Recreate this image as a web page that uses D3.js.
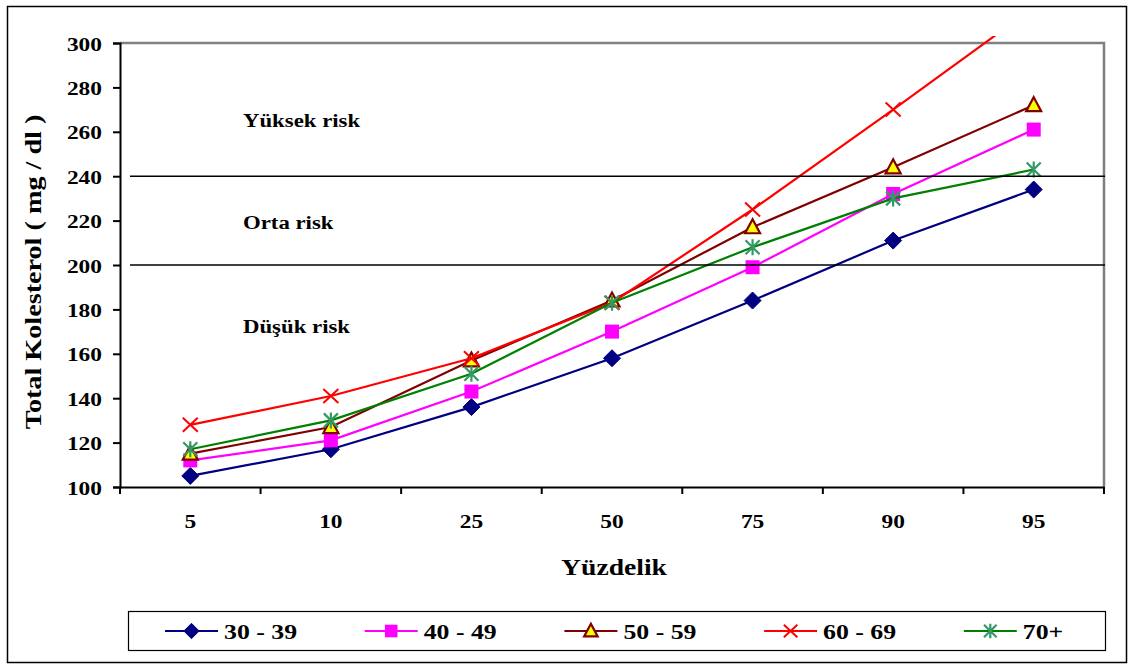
<!DOCTYPE html>
<html>
<head>
<meta charset="utf-8">
<script src="https://cdn.jsdelivr.net/npm/d3@7"></script>
<style>
  html, body { margin: 0; padding: 0; background: #fff; }
  svg { display: block; font-family: "Liberation Serif", "Times New Roman", serif; font-weight: bold; }
</style>
</head>
<body>
<div id="chart"></div>
<script>
// --- Data ---
const categories = ["5", "10", "25", "50", "75", "90", "95"];
const seriesNames = ["30 - 39", "40 - 49", "50 - 59", "60 - 69", "70+"];
const values3039 = [105, 117, 136, 158, 184, 211, 234];
const values4049 = [112, 121, 143, 170, 199, 232, 261];
const values5059 = [115, 127, 157, 184, 217, 244, 272];
const values6069 = [128, 141, 158, 183, 225, 270, 316];
const values70 = [117, 130, 151, 183, 208, 230, 243];
const yTicks = [100, 120, 140, 160, 180, 200, 220, 240, 260, 280, 300];
const riskLevels = [240, 200];
const riskLabels = [
  { text: "Yüksek risk", value: 262 },
  { text: "Orta risk", value: 216 },
  { text: "Düşük risk", value: 169.5 }
];

// --- Configuration ---
const width = 1129, height = 664;
const plot = { left: 120, right: 1104, top: 43, bottom: 487 };
const SX = 1.2; // the original text is drawn a little wider than the font

const series = [
  { name: seriesNames[0], values: values3039, color: "#000080", marker: "diamond" },
  { name: seriesNames[1], values: values4049, color: "#ff00ff", marker: "square" },
  { name: seriesNames[2], values: values5059, color: "#800000", marker: "triangle" },
  { name: seriesNames[3], values: values6069, color: "#ff0000", marker: "cross" },
  { name: seriesNames[4], values: values70, color: "#008000", marker: "star" }
];

const xScale = d3.scaleBand()
  .domain(categories)
  .range([plot.left, plot.right]);
const xPos = c => xScale(c) + xScale.bandwidth() / 2;

const yScale = d3.scaleLinear()
  .domain([100, 300])
  .range([plot.bottom, plot.top]);

const svg = d3.select("#chart")
  .append("svg")
  .attr("width", width)
  .attr("height", height);

// text helper: positioned at (x, y), stretched horizontally
function addText(parent, x, y, str, size, anchor, rotate) {
  return parent.append("text")
    .attr("transform", `translate(${x},${y})` + (rotate ? ` rotate(${rotate})` : "") + ` scale(${SX},1)`)
    .attr("text-anchor", anchor || "start")
    .attr("font-size", size + "px")
    .attr("fill", "#000")
    .text(str);
}

// outer frame
svg.append("rect")
  .attr("x", 7.5).attr("y", 6.5)
  .attr("width", 1119).attr("height", 656)
  .attr("fill", "none").attr("stroke", "#000").attr("stroke-width", 1.5);

// plot area frame (gray top & right)
svg.append("path")
  .attr("d", `M${plot.left},${plot.top}H${plot.right}V${plot.bottom}`)
  .attr("fill", "none").attr("stroke", "#808080").attr("stroke-width", 2.5);

// --- Axes ---
const yAxis = d3.axisLeft(yScale).tickValues(yTicks).tickSize(7);
const yG = svg.append("g")
  .attr("transform", `translate(${plot.left},0)`)
  .call(yAxis);
yG.select(".domain").attr("stroke", "#000").attr("stroke-width", 2);
yG.selectAll(".tick line").attr("stroke", "#000").attr("stroke-width", 2);
yG.selectAll("text")
  .attr("x", null).attr("dy", null)
  .attr("transform", `translate(-18,7) scale(${SX},1)`)
  .attr("font-size", "19.5px").attr("font-weight", "bold")
  .attr("font-family", "Liberation Serif").attr("fill", "#000");

const xAxis = d3.axisBottom(xScale).tickSize(0);
const xG = svg.append("g")
  .attr("transform", `translate(0,${plot.bottom})`)
  .call(xAxis);
xG.select(".domain").attr("stroke", "#000").attr("stroke-width", 2);
xG.selectAll("text")
  .attr("y", null).attr("dy", null)
  .attr("transform", `translate(0,41) scale(${SX},1)`)
  .attr("font-size", "19.5px").attr("font-weight", "bold")
  .attr("font-family", "Liberation Serif").attr("fill", "#000");
// tick marks at band boundaries
xG.selectAll(".bound")
  .data(categories.concat(["end"]))
  .enter().append("line")
  .attr("x1", (d, i) => plot.left + i * xScale.bandwidth())
  .attr("x2", (d, i) => plot.left + i * xScale.bandwidth())
  .attr("y1", 0).attr("y2", 7)
  .attr("stroke", "#000").attr("stroke-width", 2);

// axis titles
addText(svg, (plot.left + plot.right) / 2 + 2, 575, "Yüzdelik", 23, "middle");
addText(svg, 41, (plot.top + plot.bottom) / 2 + 7, "Total Kolesterol ( mg / dl )", 23.5, "middle", -90);

// --- Markers ---
function drawMarker(g, type, x, y, k) {
  k = k || 1;
  if (type === "diamond") {
    g.append("path").attr("d", `M${x},${y - 8.5 * k}L${x + 8.5 * k},${y}L${x},${y + 8.5 * k}L${x - 8.5 * k},${y}Z`)
      .attr("fill", "#000080").attr("stroke", "#000080").attr("stroke-width", 1);
  } else if (type === "square") {
    g.append("rect").attr("x", x - 7 * k).attr("y", y - 7 * k).attr("width", 14 * k).attr("height", 14 * k)
      .attr("fill", "#ff00ff");
  } else if (type === "triangle") {
    g.append("path").attr("d", `M${x},${y - 8 * k}L${x + 7.5 * k},${y + 6 * k}L${x - 7.5 * k},${y + 6 * k}Z`)
      .attr("fill", "#ffff00").attr("stroke", "#800000").attr("stroke-width", 2.2);
  } else if (type === "cross") {
    g.append("path").attr("d", `M${x - 7.5 * k},${y - 7 * k}L${x + 7.5 * k},${y + 7 * k}M${x + 7.5 * k},${y - 7 * k}L${x - 7.5 * k},${y + 7 * k}`)
      .attr("stroke", "#ff0000").attr("stroke-width", 2);
  } else if (type === "star") {
    g.append("path").attr("d", `M${x - 7 * k},${y - 7 * k}L${x + 7 * k},${y + 7 * k}M${x + 7 * k},${y - 7 * k}L${x - 7 * k},${y + 7 * k}M${x},${y - 8 * k}L${x},${y + 8 * k}`)
      .attr("stroke", "#339966").attr("stroke-width", 2.2);
  }
}

// clip series lines near the top of the plot
svg.append("clipPath").attr("id", "clip")
  .append("rect").attr("x", 0).attr("y", plot.top - 7)
  .attr("width", width).attr("height", height);

const line = d3.line()
  .x((d, i) => xPos(categories[i]))
  .y(d => yScale(d));

const seriesG = svg.append("g").attr("clip-path", "url(#clip)");
series.forEach(s => {
  const g = seriesG.append("g");
  g.append("path")
    .attr("d", line(s.values))
    .attr("fill", "none").attr("stroke", s.color).attr("stroke-width", 2.2);
  s.values.forEach((v, i) => {
    if (yScale(v) >= plot.top) drawMarker(g, s.marker, xPos(categories[i]), yScale(v));
  });
});

// risk threshold lines
svg.selectAll(".risk")
  .data(riskLevels)
  .enter().append("line")
  .attr("x1", 130).attr("x2", 1105)
  .attr("y1", d => yScale(d)).attr("y2", d => yScale(d))
  .attr("stroke", "#000").attr("stroke-width", 1.5);

riskLabels.forEach(d => addText(svg, 243, yScale(d.value), d.text, 19, "start"));

// --- Legend ---
const legend = svg.append("g");
legend.append("rect")
  .attr("x", 128.5).attr("y", 611.5).attr("width", 977).attr("height", 39)
  .attr("fill", "#fff").attr("stroke", "#000").attr("stroke-width", 1.2);

series.forEach((s, i) => {
  const x0 = 165 + i * 199.7;
  const y0 = 631;
  legend.append("line")
    .attr("x1", x0).attr("x2", x0 + 53).attr("y1", y0).attr("y2", y0)
    .attr("stroke", s.color).attr("stroke-width", 2.2);
  drawMarker(legend, s.marker, x0 + 26.5, y0, 0.9);
  addText(legend, x0 + 59, y0 + 7.5, s.name, 21.5, "start");
});
</script>
</body>
</html>
